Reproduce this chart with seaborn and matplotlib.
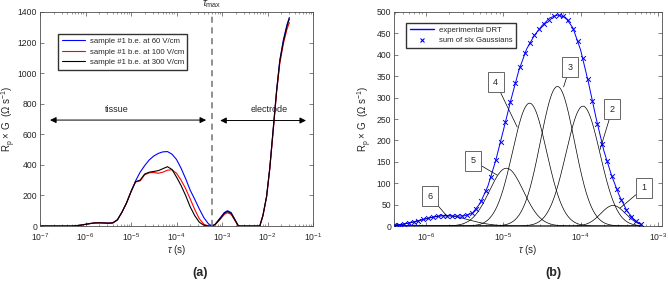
import numpy as np
import pandas as pd
import matplotlib
matplotlib.use('Agg')
import matplotlib.pyplot as plt
import matplotlib.transforms as mtransforms
from matplotlib.lines import Line2D
import seaborn as sns

# (a) DRT of sample #1 at three field strengths
log_tau_a = [-7.0, -6.3, -6.2, -6.1, -6.0, -5.9, -5.8, -5.7, -5.6, -5.5, -5.4, -5.3, -5.2,
             -5.1, -5.0, -4.9, -4.8, -4.7, -4.6, -4.5, -4.4, -4.3, -4.2, -4.1, -4.0, -3.9,
             -3.8, -3.7, -3.6, -3.5, -3.4, -3.3, -3.22, -3.15, -3.05, -2.95, -2.88, -2.8,
             -2.72, -2.64, -2.4, -2.17, -2.1, -2.02, -1.95, -1.87, -1.8, -1.73, -1.65,
             -1.57, -1.52]
drt_60 = [0, 0, 2, 6, 11, 16, 20, 21, 20, 19, 22, 40, 90, 150, 225, 295, 352, 395, 432,
          458, 475, 485, 487, 470, 435, 378, 310, 235, 175, 112, 55, 15, 0, 12, 50, 88,
          100, 88, 45, 0, 0, 0, 70, 195, 380, 650, 890, 1085, 1220, 1320, 1365]
drt_100 = [0, 0, 2, 6, 11, 16, 20, 21, 20, 18, 20, 40, 90, 150, 225, 288, 295, 335, 348,
           350, 345, 352, 365, 368, 345, 300, 245, 178, 108, 48, 12, 0, 0, 9, 40, 76,
           87, 76, 38, 0, 0, 0, 68, 190, 375, 640, 875, 1065, 1195, 1290, 1330]
drt_300 = [0, 0, 2, 6, 11, 16, 20, 21, 20, 18, 20, 40, 90, 150, 225, 290, 300, 340, 352,
           357, 362, 375, 388, 370, 320, 265, 200, 126, 68, 25, 5, 0, 0, 10, 45, 83,
           95, 83, 42, 0, 0, 0, 70, 195, 380, 650, 885, 1078, 1210, 1310, 1355]
labels_a = ['sample #1 b.e. at 60 V/cm', 'sample #1 b.e. at 100 V/cm',
            'sample #1 b.e. at 300 V/cm']
colors_a = ['#0000ff', '#ff0000', '#000000']

# (b) experimental DRT (tissue part) and the six Gaussian peaks
log_tau_b = [-6.41, -6.3, -6.2, -6.1, -6.0, -5.9, -5.8, -5.7, -5.6, -5.5, -5.4, -5.3, -5.2,
             -5.1, -5.0, -4.9, -4.8, -4.7, -4.6, -4.5, -4.4, -4.3, -4.2, -4.1, -4.0, -3.9,
             -3.8, -3.7, -3.6, -3.5, -3.4, -3.3, -3.21]
drt_exp = [2, 4, 8, 12, 17, 21, 24, 24, 23, 24, 30, 53, 93, 152, 223, 296, 363, 413, 445,
           468, 486, 493, 488, 463, 411, 336, 252, 176, 118, 71, 35, 13, 3]
peak_id = ['1', '2', '3', '4', '5', '6']
peak_amp = [48, 280, 326, 287, 135, 24]
peak_log_tau = [-3.58, -3.97, -4.30, -4.66, -4.96, -5.75]
peak_width = [0.16, 0.22, 0.22, 0.22, 0.22, 0.30]   # decades
# label box centre (log tau, value) and the point the leader line goes to
box_pos = [(-3.18, 89), (-3.59, 273), (-4.14, 371), (-5.10, 336), (-5.39, 152), (-5.95, 70)]
box_tip = [(-3.49, 42), (-3.75, 178), (-4.22, 325), (-4.82, 231), (-5.08, 119), (-5.72, 21)]

sns.set_style('ticks', {'xtick.direction': 'in', 'ytick.direction': 'in'})
plt.rcParams.update({
    'font.family': ['Liberation Sans', 'DejaVu Sans'],
    'font.size': 6.5,
    'mathtext.fontset': 'custom',
    'mathtext.rm': 'Liberation Sans',
    'mathtext.it': 'Liberation Sans:italic',
    'mathtext.bf': 'Liberation Sans:bold',
    'axes.edgecolor': '0.3',
    'axes.linewidth': 0.6,
    'xtick.color': '0.3',
    'ytick.color': '0.3',
    'xtick.labelcolor': '0.15',
    'ytick.labelcolor': '0.15',
    'xtick.major.size': 3, 'ytick.major.size': 3,
    'xtick.minor.size': 1.5,
    'xtick.major.width': 0.5, 'ytick.major.width': 0.5, 'xtick.minor.width': 0.4,
})


def style_axes(ax):
    ax.set_xscale('log')
    ax.tick_params(which='both', top=True, right=True, labelsize=6.2)
    ax.tick_params(axis='x', pad=3.5)
    ax.tick_params(axis='y', pad=2)
    for s in ax.spines.values():
        s.set_visible(True)


fig = plt.figure(figsize=(6.68, 2.81), dpi=100)
ax1 = fig.add_axes([0.0599, 0.1957, 0.4087, 0.7616])
ax2 = fig.add_axes([0.5898, 0.1957, 0.4012, 0.7616])

# ---------- (a) ----------
tau_a = 10 ** np.array(log_tau_a)
for vals, lab, col in zip([drt_60, drt_100, drt_300], labels_a, colors_a):
    df = pd.DataFrame({'tau': tau_a, 'G': vals})
    sns.lineplot(data=df, x='tau', y='G', color=col, lw=0.8, label=lab, ax=ax1,
                 sort=False, estimator=None)
style_axes(ax1)
ax1.set_xlim(1e-7, 1e-1)
ax1.set_ylim(0, 1400)
ax1.set_yticks(range(0, 1401, 200))
tau_max = 10 ** -3.22
ax1.axvline(tau_max, color='0.45', lw=1.1, ls=(0, (4, 3)))
trans = mtransforms.blended_transform_factory(ax1.transData, ax1.transAxes)
ax1.text(tau_max, 1.035, r'$\tau_{\mathrm{max}}$', transform=trans, ha='center',
         va='center', fontsize=7.5)
arrow = dict(arrowstyle='<|-|>', color='k', lw=0.7, mutation_scale=9,
             shrinkA=0, shrinkB=0)
ax1.annotate('', xy=(10 ** -6.78, 693), xytext=(10 ** -3.35, 693), arrowprops=arrow)
ax1.annotate('', xy=(10 ** -3.04, 690), xytext=(10 ** -1.154, 690), arrowprops=arrow)
ax1.text(10 ** -5.31, 765, 'tissue', ha='center', va='center', fontsize=6.5)
ax1.text(10 ** -1.97, 760, 'electrode', ha='center', va='center', fontsize=6.5)
ax1.legend(loc='upper left', bbox_to_anchor=(0.066, 0.897), borderaxespad=0,
           fancybox=False, edgecolor='0.2', framealpha=1, fontsize=5.6,
           handlelength=3.0, handletextpad=0.6, borderpad=0.45, labelspacing=0.4)
ax1.set_xlabel(r'$\tau$ (s)', fontsize=7)
ax1.set_ylabel(r'R$_\mathrm{p}$ × G  ($\Omega$ s$^{-1}$)', fontsize=7)
ax1.xaxis.set_label_coords(0.5, -0.08)
ax1.yaxis.set_label_coords(-0.08, 0.5)

# ---------- (b) ----------
tau_b = 10 ** np.array(log_tau_b)
df_exp = pd.DataFrame({'tau': tau_b, 'G': drt_exp})
sns.lineplot(data=df_exp, x='tau', y='G', color='#0000ff', lw=0.7, ax=ax2,
             sort=False, estimator=None)

fine = np.linspace(log_tau_b[0], log_tau_b[-1], 400)
for a, m, w in zip(peak_amp, peak_log_tau, peak_width):
    g = a * np.exp(-(fine - m) ** 2 / (2 * w ** 2))
    sns.lineplot(x=10 ** fine, y=g, color='k', lw=0.5, ax=ax2, sort=False,
                 estimator=None)

marks = np.arange(log_tau_b[0], log_tau_b[-1] + 1e-9, 0.0625)
total_marks = np.zeros_like(marks)
for a, m, w in zip(peak_amp, peak_log_tau, peak_width):
    total_marks += a * np.exp(-(marks - m) ** 2 / (2 * w ** 2))
sns.scatterplot(x=10 ** marks, y=total_marks, marker='x', color='#0000ff', s=12,
                linewidth=0.7, ax=ax2, zorder=3)

for pid, (bx, by), (tx, ty) in zip(peak_id, box_pos, box_tip):
    ax2.annotate(pid, xy=(10 ** tx, ty), xytext=(10 ** bx, by), ha='center',
                 va='center', fontsize=6.5,
                 bbox=dict(boxstyle='square,pad=0.6', fc='white', ec='0.3', lw=0.6),
                 arrowprops=dict(arrowstyle='-', color='k', lw=0.5, shrinkA=0,
                                 shrinkB=0))

style_axes(ax2)
ax2.set_xlim(10 ** -6.414, 10 ** -2.948)
ax2.set_ylim(0, 500)
ax2.set_yticks(range(0, 501, 50))
handles_b = [Line2D([0, 1], [0, 0], color=(0.0, 0.0, 1.0), lw=1.0),
             Line2D([0], [0], ls='none', marker='x', color=(0.0, 0.0, 1.0), ms=3.5,
                    mew=0.8)]
leg = ax2.legend(handles_b, ['experimental DRT', 'sum of six Gaussians'],
                 loc='upper left', bbox_to_anchor=(0.045, 0.949), borderaxespad=0,
                 fancybox=False, edgecolor='0.2', framealpha=1, fontsize=5.6,
                 handlelength=3.2, handletextpad=0.6, borderpad=0.45, labelspacing=0.4)
for h in leg.get_lines():
    h.set_color((0.0, 0.0, 1.0))
ax2.set_xlabel(r'$\tau$ (s)', fontsize=7)
ax2.set_ylabel(r'R$_\mathrm{p}$ × G  ($\Omega$ s$^{-1}$)', fontsize=7)
ax2.xaxis.set_label_coords(0.5, -0.08)
ax2.yaxis.set_label_coords(-0.075, 0.5)

fig.text(200 / 668, 1 - 273 / 281, '(a)', ha='center', va='center',
         fontweight='bold', fontsize=9)
fig.text(553 / 668, 1 - 273 / 281, '(b)', ha='center', va='center',
         fontweight='bold', fontsize=9)

fig.savefig('out.png', dpi=100)
